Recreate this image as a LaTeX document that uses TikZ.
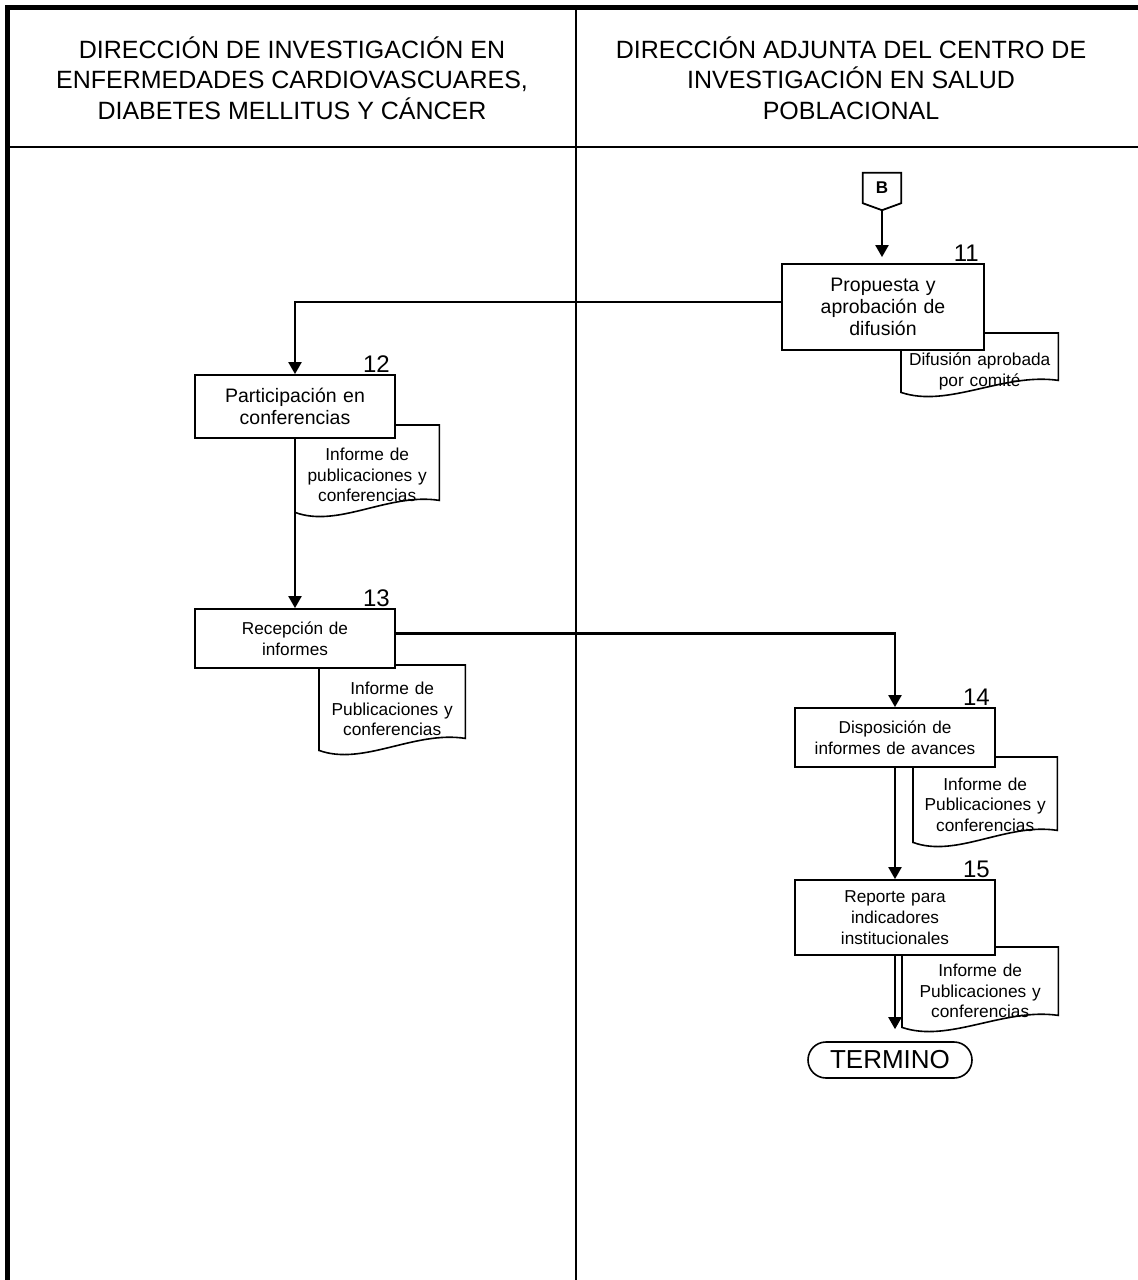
\documentclass[tikz,border=0pt]{standalone}
\usepackage{fontspec}
\setmainfont{Liberation Sans}
\usetikzlibrary{arrows.meta,positioning,calc,backgrounds,shapes.misc}

\tikzset{
  frame/.style={draw=black, line width=5pt},
  lane/.style={draw=black, line width=2.2pt},
  lanehead/.style={align=center, inner sep=0pt, font=\fontsize{25}{30.5}\selectfont},
  stepbox/.style={draw=black, line width=1.8pt, fill=white, align=center, inner sep=0pt, minimum width=200pt, text width=194pt, font=\fontsize{17.2}{21}\selectfont},
  bigbox/.style={stepbox, font=\fontsize{19.5}{22}\selectfont},
  num/.style={inner sep=1pt, font=\fontsize{24}{24}\selectfont},
  doc/.style={align=center, inner sep=0pt, anchor=north west, font=\fontsize{17.3}{20.5}\selectfont},
  docline/.style={draw=black, line width=1.6pt},
  offpage/.style={inner sep=0pt, minimum width=38pt, minimum height=30pt, font=\bfseries\fontsize{17}{17}\selectfont},
  termino/.style={rounded rectangle, draw=black, line width=1.6pt, minimum width=164pt, minimum height=36pt, inner sep=0pt, font=\fontsize{26}{26}\selectfont},
  arrow/.style={-{Triangle[length=12pt,width=13pt]}, line width=2.2pt, draw=black}
}

\begin{document}
\begin{tikzpicture}[x=1pt, y=-1pt]
  \useasboundingbox (0,0) rectangle (1138,1280);

  % swimlanes
  \draw[frame, line join=miter] (7.5,1280) -- (7.5,7) -- (1138,7);
  \draw[lane] (10,147) -- (1138,147);
  \draw[lane] (576,7) -- (576,1280);

  \node[lanehead] (h1) at (292,78) {DIRECCIÓN DE INVESTIGACIÓN EN\\ENFERMEDADES CARDIOVASCUARES,\\DIABETES MELLITUS Y CÁNCER};
  \node[lanehead] (h2) at (851,78) {DIRECCIÓN ADJUNTA DEL CENTRO DE\\INVESTIGACIÓN EN SALUD\\POBLACIONAL};

  % connector B
  \node[offpage] (B) at (882,188) {B};
  \coordinate (Btip) at ([yshift=-7pt]B.south);
  \draw[line width=1.8pt] (B.north west) -- (B.north east) -- (B.south east) -- (Btip) -- (B.south west) -- cycle;

  % steps
  \node[bigbox, minimum width=202pt, minimum height=86pt] (b11) at (883,307) {Propuesta y\\aprobación de\\difusión};
  \node[bigbox, minimum height=63pt] (b12) at (295,406.5) {Participación en\\conferencias};
  \node[stepbox, minimum height=59pt] (b13) at (295,638.5) {Recepción de\\informes};
  \node[stepbox, minimum height=59pt] (b14) at (895,737.5) {Disposición de\\informes de avances};
  \node[stepbox, minimum height=75pt] (b15) at (895,917.5) {Reporte para\\indicadores\\institucionales};
  \node[termino] (fin) at (890,1060) {TERMINO};

  \foreach \b in {11,...,15}
    \node[num, anchor=south east] (n\b) at ([xshift=-5pt]b\b.north east) {\b};

  % documents
  \node[doc, minimum width=157pt, text width=150pt, minimum height=42pt] (d11) at (901,350) {Difusión aprobada\\por comité};
  \node[doc, minimum width=144pt, text width=138pt, minimum height=74pt] (d12) at (295,438) {Informe de\\publicaciones y\\conferencias};
  \node[doc, minimum width=146pt, text width=140pt, minimum height=82pt] (d13) at (319,668) {Informe de\\Publicaciones y\\conferencias};
  \node[doc, minimum width=144pt, text width=138pt, minimum height=75pt] (d14) at (913,767) {Informe de\\Publicaciones y\\conferencias};
  \node[doc, minimum width=156pt, text width=150pt, minimum height=72pt] (d15) at (902,955) {Informe de\\Publicaciones y\\conferencias};

  \begin{scope}[on background layer]
    \foreach \d/\h in {d11/17,d12/13,d13/3,d14/10,d15/8}
      \draw[docline] ([yshift=\h pt]\d.north west) -- ([yshift=\h pt]\d.north east) -- ([yshift=12pt]\d.south east)
        .. controls ($(\d.south west)!0.65!(\d.south east)+(0,-20)$) and ($(\d.south west)!0.3!(\d.south east)+(0,16)$) .. (\d.south west) -- cycle;
  \end{scope}

  % flow
  \draw[arrow, shorten >=6pt] (Btip) -- (Btip |- b11.north);
  \draw[arrow] ([yshift=5pt]b11.west) -| (b12.north);
  \draw[arrow] (b12) -- (b13);
  \draw[arrow] ([yshift=5pt]b13.east) -| (b14.north);
  \draw[arrow] (b14) -- (b15);
  \draw[arrow, shorten >=12pt] (b15.south) -- (b15.south |- fin.north);
\end{tikzpicture}
\end{document}
